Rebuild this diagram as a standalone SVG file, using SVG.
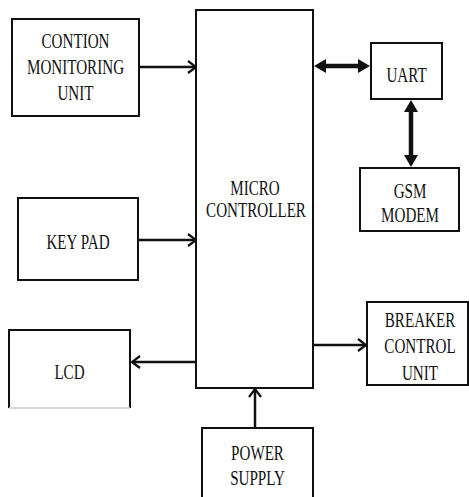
<svg xmlns="http://www.w3.org/2000/svg" width="469" height="497" viewBox="0 0 469 497">
<style>
.box{fill:#fff;stroke:#111;stroke-width:2}
.t{font-family:"Liberation Serif","DejaVu Serif","Times New Roman",Times,serif;font-size:21px;fill:#111;text-anchor:middle}
.c{stroke:#111;fill:none}
.s{stroke-width:2.5}
.d{stroke-width:4.5}
</style>
<defs>
<marker id="open" viewBox="0 0 10 14" markerWidth="10" markerHeight="14" refX="9" refY="7" orient="auto" markerUnits="userSpaceOnUse">
<path d="M1,1 L9,7 L1,13" fill="none" stroke="#111" stroke-width="2.2"/>
</marker>
<marker id="fill" viewBox="0 0 12 14" markerWidth="12" markerHeight="14" refX="0" refY="7" orient="auto-start-reverse" markerUnits="userSpaceOnUse">
<path d="M0,0 L12,7 L0,14 Z" fill="#111"/>
</marker>
</defs>
<rect width="469" height="497" fill="#fff"/>

<g id="connectors">
<line class="c s" x1="140" y1="67" x2="196" y2="67" marker-end="url(#open)"/>
<line class="c s" x1="139" y1="240" x2="196" y2="240" marker-end="url(#open)"/>
<line class="c s" x1="196" y1="362" x2="132" y2="362" marker-end="url(#open)"/>
<line class="c s" x1="314" y1="345" x2="366" y2="345" marker-end="url(#open)"/>
<line class="c s" x1="255" y1="428" x2="255" y2="389" marker-end="url(#open)"/>
<line class="c d" x1="326" y1="66" x2="358" y2="66" marker-start="url(#fill)" marker-end="url(#fill)"/>
<line class="c d" x1="411" y1="112" x2="411" y2="155" marker-start="url(#fill)" marker-end="url(#fill)"/>
</g>

<g id="condition">
<rect class="box" x="12" y="19" width="127" height="97"/>
<text class="t" transform="translate(75.5,48) scale(0.72,1)">CONTION</text>
<text class="t" transform="translate(75.5,74) scale(0.72,1)">MONITORING</text>
<text class="t" transform="translate(75.5,100) scale(0.72,1)">UNIT</text>
</g>

<g id="micro">
<rect class="box" x="196" y="10" width="117" height="378"/>
<text class="t" transform="translate(255,195) scale(0.72,1)">MICRO</text>
<text class="t" transform="translate(256,217) scale(0.72,1)">CONTROLLER</text>
</g>

<g id="uart">
<rect class="box" x="371" y="43" width="71" height="56"/>
<text class="t" transform="translate(406.5,82) scale(0.72,1)">UART</text>
</g>

<g id="gsm">
<rect class="box" x="360" y="168" width="99" height="63"/>
<text class="t" transform="translate(410,198) scale(0.72,1)">GSM</text>
<text class="t" transform="translate(410,222) scale(0.72,1)">MODEM</text>
</g>

<g id="keypad">
<rect class="box" x="18" y="198" width="120" height="82"/>
<text class="t" transform="translate(78,249) scale(0.72,1)">KEY PAD</text>
</g>

<g id="lcd">
<path d="M9,408 V330 H130 V408" fill="#fff" stroke="#111" stroke-width="2"/>
<line x1="9" y1="408" x2="130" y2="408" stroke="#ccc" stroke-width="1.5"/>
<text class="t" transform="translate(69.5,379) scale(0.72,1)">LCD</text>
</g>

<g id="breaker">
<rect class="box" x="367" y="302" width="101" height="83"/>
<text class="t" transform="translate(420,327) scale(0.72,1)">BREAKER</text>
<text class="t" transform="translate(420,353) scale(0.72,1)">CONTROL</text>
<text class="t" transform="translate(420,380) scale(0.72,1)">UNIT</text>
</g>

<g id="power">
<rect class="box" x="202" y="428" width="111" height="80"/>
<text class="t" transform="translate(257.5,460) scale(0.72,1)">POWER</text>
<text class="t" transform="translate(257.5,485) scale(0.72,1)">SUPPLY</text>
</g>
</svg>
